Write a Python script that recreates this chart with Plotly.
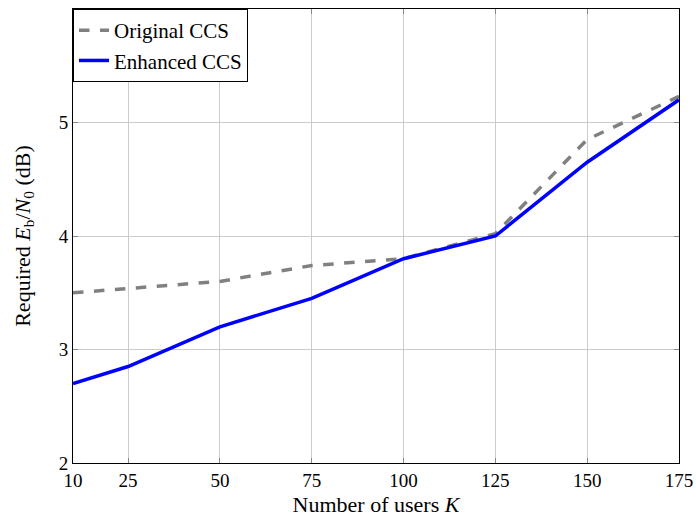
import plotly.graph_objects as go

users = [10, 25, 50, 75, 100, 125, 150, 175]
original_ccs = [3.50, 3.54, 3.60, 3.74, 3.80, 4.02, 4.85, 5.23]
enhanced_ccs = [2.70, 2.85, 3.20, 3.45, 3.80, 4.00, 4.65, 5.20]
x_ticks = [10, 25, 50, 75, 100, 125, 150, 175]
y_ticks = [2, 3, 4, 5]

FONT = "Liberation Serif"

fig = go.Figure()
fig.add_trace(go.Scatter(x=users, y=original_ccs, mode="lines", name="Original CCS",
                         line=dict(color="#808080", width=3.5, dash="dash")))
fig.add_trace(go.Scatter(x=users, y=enhanced_ccs, mode="lines", name="Enhanced CCS",
                         line=dict(color="#0000ff", width=3.5)))

axis_common = dict(showline=True, linecolor="black", linewidth=1, mirror="ticks",
                   ticks="inside", ticklen=5, tickcolor="#888888",
                   showgrid=True, gridcolor="#cccccc", gridwidth=1, zeroline=False,
                   automargin=False,
                   tickfont=dict(family=FONT, size=19, color="black"))

fig.update_layout(
    width=696, height=523,
    margin=dict(l=73, r=17, t=9, b=60),
    paper_bgcolor="white", plot_bgcolor="white",
    font=dict(family=FONT, size=19, color="black"),
    showlegend=True,
    legend=dict(x=0, y=1, xanchor="left", yanchor="top", bordercolor="black",
                borderwidth=1, bgcolor="white", font=dict(family=FONT, size=21),
                tracegroupgap=0),
    xaxis=dict(range=[10, 175], tickvals=x_ticks,
               title=dict(text="Number of users <i>K</i>", font=dict(family=FONT, size=22), standoff=6),
               **axis_common),
    yaxis=dict(range=[2, 6], tickvals=y_ticks,
               title=dict(text="Required <i>E</i><sub>b</sub>/<i>N</i><sub>0</sub> (dB)",
                          font=dict(family=FONT, size=22), standoff=22),
               **axis_common),
)

fig.write_html("out.html", config={"displayModeBar": False},
               post_script="document.body.style.margin='0';")
